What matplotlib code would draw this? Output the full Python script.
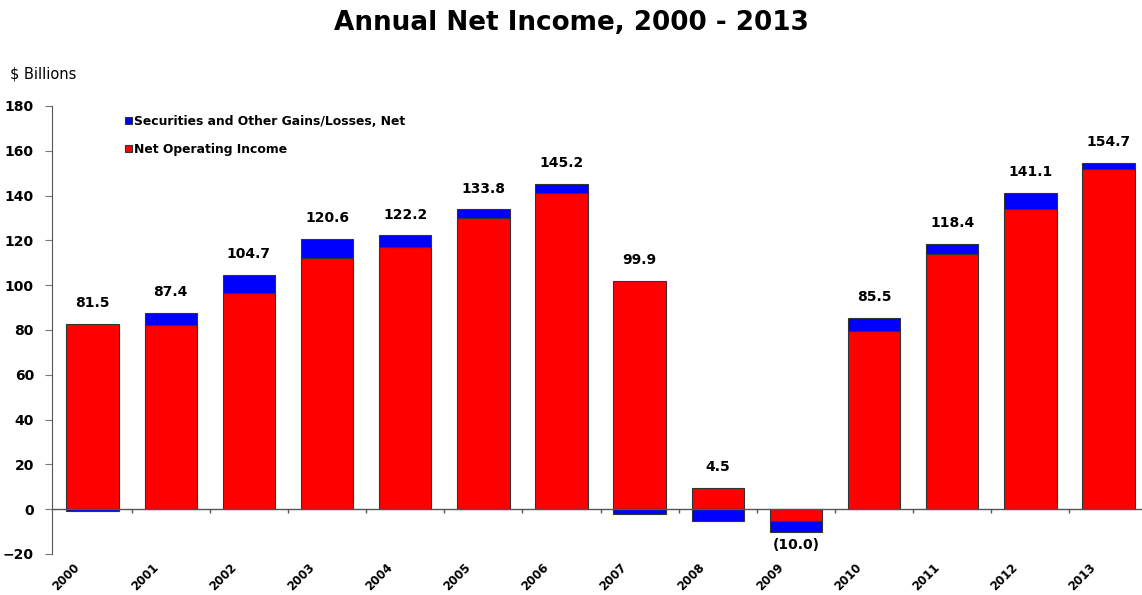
import matplotlib.pyplot as plt
import matplotlib.transforms as mtransforms
import numpy as np

plt.rcParams['font.family'] = ['DejaVu Sans']

years = ['2000', '2001', '2002', '2003', '2004', '2005', '2006',
         '2007', '2008', '2009', '2010', '2011', '2012', '2013']
# net operating income and securities gains/losses, $ billions
operating = [82.5, 82.0, 96.5, 112.3, 117.2, 130.1, 141.3,
             102.0, 9.6, -5.3, 79.3, 114.0, 134.1, 152.0]
securities = [-1.0, 5.4, 8.2, 8.3, 5.0, 3.7, 3.9,
              -2.1, -5.1, -4.7, 6.2, 4.4, 7.0, 2.7]
totals = ['81.5', '87.4', '104.7', '120.6', '122.2', '133.8', '145.2',
          '99.9', '4.5', '(10.0)', '85.5', '118.4', '141.1', '154.7']

op = np.array(operating)
sec = np.array(securities)
x = np.arange(len(years))

# stacking: gains sit on top of operating income, losses hang below the lowest part
sec_base = np.where(sec >= 0, np.maximum(op, 0), np.minimum(op, 0))

fig = plt.figure(figsize=(11.42, 5.95), dpi=100)
ax = fig.add_axes([0.0455, 0.069, 0.956, 0.753])

w = 0.67
ax.bar(x, op, w, color='#ff0000', edgecolor='#333333', linewidth=0.8,
       label='Net Operating Income', zorder=2)
ax.bar(x, sec, w, bottom=sec_base, color='#0000ff', edgecolor='#333333',
       linewidth=0.8, label='Securities and Other Gains/Losses, Net', zorder=2)

# value labels
tops = np.maximum(op, 0) + np.maximum(sec, 0)
bots = np.minimum(op, 0) + np.minimum(sec, 0)
for i in range(len(years)):
    if totals[i].startswith('('):
        ax.annotate(totals[i], (x[i], bots[i]), xytext=(0, -5), textcoords='offset points',
                    ha='center', va='top', fontsize=10, fontweight='bold')
    else:
        ax.annotate(totals[i], (x[i], tops[i]), xytext=(0, 10), textcoords='offset points',
                    ha='center', va='bottom', fontsize=10, fontweight='bold')

ax.set_xlim(-0.52, 13.45)
ax.set_ylim(-20, 180)
ax.set_yticks(np.arange(-20, 181, 20))
ax.tick_params(axis='y', labelsize=10, direction='out', length=5, color='#777777', pad=8)
for t in ax.get_yticklabels():
    t.set_fontweight('bold')

ax.set_xticks(x)
ax.set_xticklabels(years, rotation=45, ha='right', fontsize=8.5, fontweight='bold')
ax.tick_params(axis='x', length=0, pad=5)
shift = mtransforms.ScaledTranslation(-0.1, 0, fig.dpi_scale_trans)
for t in ax.get_xticklabels():
    t.set_transform(t.get_transform() + shift)

for s in ['top', 'right', 'bottom']:
    ax.spines[s].set_visible(False)
ax.spines['left'].set_color('#555555')

# zero line with category separators
ax.axhline(0, color='#555555', linewidth=1, zorder=3)
ax.vlines(x[:-1] + 0.5, -1.8, 0, color='#555555', linewidth=1, zorder=3)

handles, labels = ax.get_legend_handles_labels()
leg = ax.legend(handles[::-1], labels[::-1], loc='upper left', bbox_to_anchor=(0.057, 1.005),
                frameon=False, fontsize=8.9, handlelength=0.55, handleheight=0.55,
                handletextpad=0.15, labelspacing=1.2)
for t in leg.get_texts():
    t.set_fontweight('bold')

fig.text(0.5, 0.962, 'Annual Net Income, 2000 - 2013', ha='center', va='center',
         fontsize=18.9, fontweight='bold')
fig.text(0.009, 0.875, '$ Billions', ha='left', va='center', fontsize=10.5)

fig.savefig('out.png', dpi=100)
